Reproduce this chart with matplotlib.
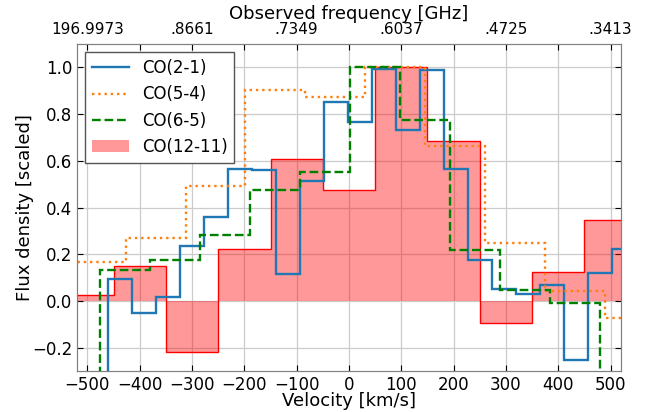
import numpy as np
import matplotlib
matplotlib.use("Agg")
import matplotlib.pyplot as plt

# channel centres [km/s] and scaled flux
v_co21 = [-483.1, -437.1, -391.3, -345.5, -299.7, -253.9, -208.1, -162.3, -116.5,
          -70.7, -24.9, 20.9, 66.7, 112.5, 158.3, 204.1, 249.9, 295.7, 341.5,
          387.3, 433.1, 478.9, 524.7]
f_co21 = [-0.5, 0.092, -0.051, 0.016, 0.237, 0.36, 0.567, 0.559, 0.117,
          0.513, 0.85, 0.767, 0.995, 0.732, 0.988, 0.566, 0.177, 0.05, 0.029,
          0.067, -0.251, 0.12, 0.222]

v_co54 = [-484.5, -369.5, -255.0, -141.0, -26.0, 89.0, 203.5, 317.0, 432.0, 547.0]
f_co54 = [0.165, 0.27, 0.492, 0.905, 0.875, 1.0, 0.663, 0.249, 0.044, -0.074]

v_co65 = [-523.7, -428.0, -332.0, -236.0, -141.5, -46.6, 49.0, 144.5, 240.0,
          335.6, 431.0, 527.0]
f_co65 = [-0.5, 0.133, 0.174, 0.284, 0.473, 0.553, 1.0, 0.773, 0.217,
          0.049, -0.009, -0.5]

edges_co1211 = [-550, -450, -350, -250, -150, -50, 50, 150, 250, 350, 450, 550]
f_co1211 = [0.025, 0.15, -0.219, 0.222, 0.609, 0.474, 1.0, 0.684, -0.094, 0.122, 0.345]

# top axis: observed frequency labels at velocity positions
freq_vel = [-500, -300, -100, 100, 300, 500]
freq_labels = ["196.9973", ".8661", ".7349", ".6037", ".4725", ".3413"]


def chan_edges(centres):
    # bin edges halfway between channel centres, outer bins full width
    c = np.asarray(centres, dtype=float)
    mid = (c[1:] + c[:-1]) / 2
    return np.concatenate([[2 * c[0] - mid[0]], mid, [2 * c[-1] - mid[-1]]])


fig = plt.figure(figsize=(6.52, 4.12), dpi=100)
ax = fig.add_axes([0.118, 0.0995, 0.8345, 0.7935])

ax.stairs(f_co1211, edges_co1211, baseline=0, fill=True, color="red", alpha=0.4,
          lw=0, label="CO(12-11)", zorder=1)
ax.stairs(f_co1211, edges_co1211, baseline=None, color="red", lw=1, zorder=1.5)

ax.stairs(f_co21, chan_edges(v_co21), baseline=None, color="#1f77b4", lw=1.7,
          label="CO(2-1)", zorder=3)
ax.stairs(f_co54, chan_edges(v_co54), baseline=None, color="#ff7f0e", lw=1.7,
          ls=":", label="CO(5-4)", zorder=3)
ax.stairs(f_co65, chan_edges(v_co65), baseline=None, color="green", lw=1.7,
          ls="--", label="CO(6-5)", zorder=3)

ax.set_xlim(-520, 520)
ax.set_ylim(-0.3, 1.1)
ax.set_xticks(np.arange(-500, 501, 100))
ax.set_yticks(np.arange(-0.2, 1.01, 0.2))
ax.grid(True, color="#cccccc", lw=0.9)
ax.set_axisbelow(True)
ax.tick_params(direction="in", right=True, labelsize=12, length=4)
for s in ax.spines.values():
    s.set_color("#808080")

ax.set_xlabel("Velocity [km/s]", fontsize=13, labelpad=-1)
ax.set_ylabel("Flux density [scaled]", fontsize=13)
ax.yaxis.set_label_coords(-0.078, 0.5)

handles, labels = ax.get_legend_handles_labels()
order = ["CO(2-1)", "CO(5-4)", "CO(6-5)", "CO(12-11)"]
hmap = dict(zip(labels, handles))
leg = ax.legend([hmap[k] for k in order], order, loc="upper left", fontsize=12,
                fancybox=False, framealpha=1, edgecolor="#555555",
                borderaxespad=0.5, handlelength=2.2)
leg.get_frame().set_linewidth(1.0)

top = ax.twiny()
top.set_xlim(ax.get_xlim())
top.set_xticks(np.arange(-500, 501, 100))
top.set_xticklabels([freq_labels[freq_vel.index(v)] if v in freq_vel else ""
                     for v in range(-500, 501, 100)])
top.tick_params(direction="in", labelsize=11, length=4, pad=5)
for s in top.spines.values():
    s.set_color("#808080")
top.set_xlabel("Observed frequency [GHz]", fontsize=13, labelpad=2)

fig.savefig("out.png", dpi=100)
